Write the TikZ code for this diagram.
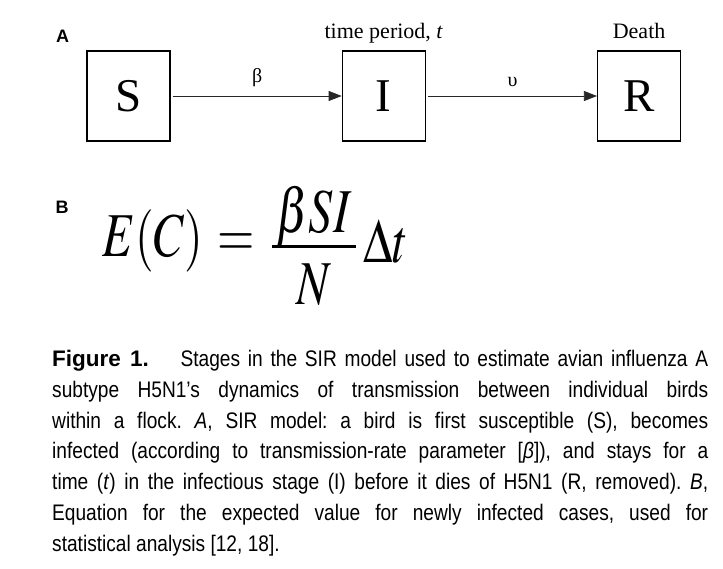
\documentclass[tikz,border=0pt]{standalone}
\usepackage{mathptmx}
\usepackage[no-math]{fontspec}
\setmainfont{Liberation Serif}
\setsansfont{Liberation Sans}
\newfontfamily\capfont[FakeStretch=0.85]{Liberation Sans}
\newfontfamily\capbold{Liberation Sans}
\usepackage{tikz}
\usetikzlibrary{arrows.meta,positioning}

\begin{document}
\begin{tikzpicture}[
    x=1pt, y=-1pt,
    node distance=171pt,
    stage/.style={rectangle, draw, line width=1.3pt, minimum width=83pt, minimum height=90pt, inner sep=0pt, font=\fontsize{47}{50}\selectfont},
    flow/.style={-{Triangle[length=13pt,width=10pt]}, line width=0.7pt, draw=black!85},
    rate/.style={font=\fontsize{20}{24}\selectfont, inner sep=0pt},
    tag/.style={font=\sffamily\bfseries\fontsize{18}{20}\selectfont, inner sep=0pt}
]
    \useasboundingbox (0,0) rectangle (723,568);

    % Panel A: SIR stages
    \node[tag] (taga) at (62.5,36.5) {A};
    \node[stage] (s) at (128.5,96) {S};
    \node[stage, right=of s] (i) {I};
    \node[stage, right=of i] (r) {R};

    \draw[flow] ([xshift=2pt]s.east) -- node[rate, above=9pt] (beta) {β} (i.west);
    \draw[flow] ([xshift=2pt]i.east) -- node[rate, above=9pt] (ups) {υ} (r.west);

    \node[anchor=base, font=\fontsize{22}{26}\selectfont, inner sep=0pt] (tp) at ([yshift=12pt]i.north) {time period, \textit{t}};
    \node[anchor=base, font=\fontsize{22}{26}\selectfont, inner sep=0pt] (death) at ([yshift=12pt]r.north) {Death};

    % Panel B: expected new cases
    \node[tag] (tagb) at (62,207) {B};
    \node[anchor=base west, inner sep=0pt, yscale=1.3, transform shape, font=\fontsize{48}{56}\selectfont] (eq) at (102,262)
        {$\displaystyle \raisebox{4pt}{$E(C)$\hspace{15pt}$=$}\hspace{16pt}\frac{\hspace{4pt}\raisebox{-10pt}[\height][0pt]{$\beta SI$}\hspace{4pt}}{N}\hspace{7pt}\Delta t$};

    % Caption
    \node[anchor=north west, inner sep=0pt, text width=656pt, align=justify,
          font=\capfont\fontsize{22.5}{30.8}\selectfont] (cap) at (52,350)
        {\frenchspacing\hyphenpenalty=10000\exhyphenpenalty=10000
         {\capbold\bfseries Figure 1.}\hspace{24pt} Stages in the SIR model used to estimate avian influenza A\linebreak
         subtype H5N1’s dynamics of transmission between individual birds\linebreak
         within a flock. \textit{A}, SIR model: a bird is first susceptible (S), becomes\linebreak
         infected (according to transmission-rate parameter [\textit{β}]), and stays for a\linebreak
         time (\textit{t}) in the infectious stage (I) before it dies of H5N1 (R, removed). \textit{B},\linebreak
         Equation for the expected value for newly infected cases, used for\linebreak
         statistical analysis [12, 18].};
\end{tikzpicture}
\end{document}
